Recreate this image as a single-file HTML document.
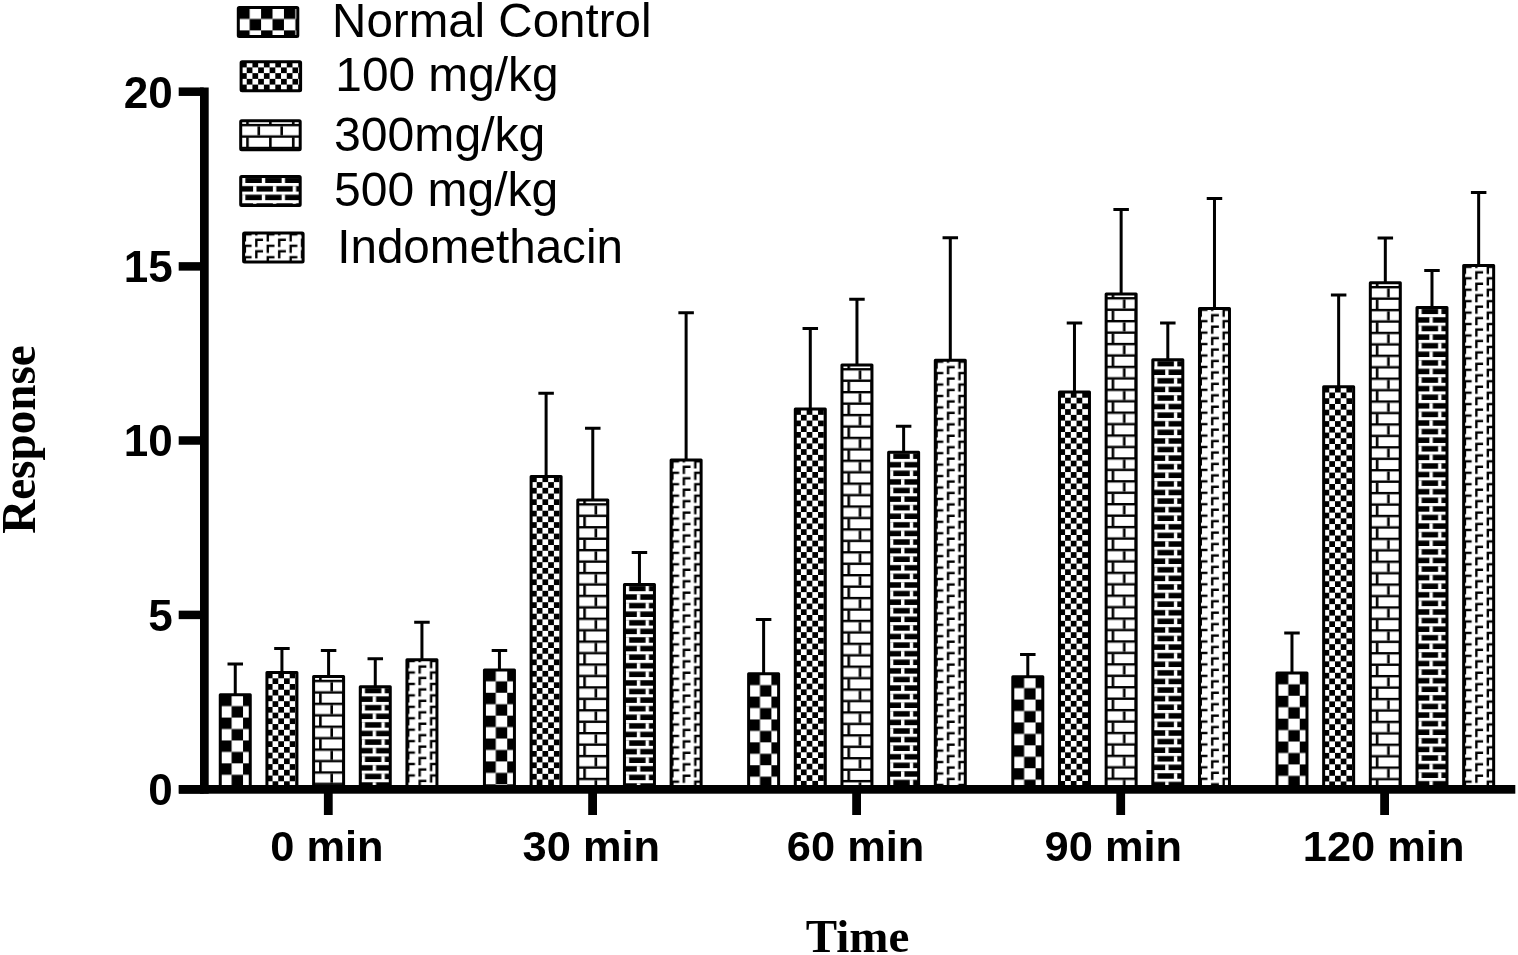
<!DOCTYPE html>
<html><head><meta charset="utf-8"><title>Response over Time</title>
<style>
html,body{margin:0;padding:0;background:#fff;}
body{width:1518px;height:955px;overflow:hidden;}
svg{display:block;}
.tk{font-family:"Liberation Sans",Arial,sans-serif;font-weight:bold;font-size:44px;}
.lg{font-family:"Liberation Sans",Arial,sans-serif;font-size:48px;}
.ti{font-family:"Liberation Serif","Times New Roman",serif;font-weight:bold;font-size:47px;}
</style></head>
<body>
<svg width="1518" height="955" viewBox="0 0 1518 955">
<defs>
<pattern id="pNC" patternUnits="userSpaceOnUse" x="1.4" y="1.4" width="22.88" height="22.88">
  <rect width="22.88" height="22.88" fill="#fff"/>
  <rect width="11.44" height="11.44" fill="#000"/>
  <rect x="11.44" y="11.44" width="11.44" height="11.44" fill="#000"/>
</pattern>
<pattern id="p100" patternUnits="userSpaceOnUse" x="1.4" y="1.5" width="11.44" height="11.44">
  <rect width="11.44" height="11.44" fill="#fff"/>
  <rect width="5.72" height="5.72" fill="#000"/>
  <rect x="5.72" y="5.72" width="5.72" height="5.72" fill="#000"/>
</pattern>
<pattern id="p300" patternUnits="userSpaceOnUse" x="0" y="4.7" width="22.88" height="22.88">
  <rect width="22.88" height="22.88" fill="#fff"/>
  <rect y="0" width="22.88" height="2.4" fill="#000"/>
  <rect y="11.44" width="22.88" height="2.4" fill="#000"/>
  <rect x="18.3" y="2.4" width="2.6" height="9.04" fill="#000"/>
  <rect x="7.0" y="13.84" width="2.6" height="9.04" fill="#000"/>
</pattern>
<pattern id="p500" patternUnits="userSpaceOnUse" x="0" y="8.1" width="19.8" height="17.18">
  <rect width="19.8" height="17.18" fill="#000"/>
  <rect y="0" width="19.8" height="3.1" fill="#fff"/>
  <rect y="8.59" width="19.8" height="3.1" fill="#fff"/>
  <rect x="13.9" y="3.1" width="3.4" height="5.49" fill="#fff"/>
  <rect x="2.8" y="11.69" width="3.4" height="5.49" fill="#fff"/>
</pattern>
<pattern id="pIN" patternUnits="userSpaceOnUse" x="0" y="0" width="22.88" height="11.44">
  <rect width="22.88" height="11.44" fill="#fff"/>
  <path d="M1.6 1.7h7.9v2.4h-5.5v5.9h-2.4z M13.04 7.1h7.9v2.4h-5.5v5.9h-2.4z M13.04 -4.34h7.9v2.4h-5.5v5.9h-2.4z" fill="#000"/>
</pattern>
</defs>
<rect width="1518" height="955" fill="#fff"/>
<g id="bars">
<g transform="translate(218.76 693.3)"><rect x="1.5" y="1.5" width="30" height="96" fill="url(#pNC)" stroke="#000" stroke-width="3" stroke-linejoin="round"/></g>
<g transform="translate(265.43 671.1)"><rect x="1.5" y="1.5" width="30" height="118.2" fill="url(#p100)" stroke="#000" stroke-width="3" stroke-linejoin="round"/></g>
<g transform="translate(312.1 675.1)"><rect x="1.5" y="1.5" width="30" height="114.2" fill="url(#p300)" stroke="#000" stroke-width="3" stroke-linejoin="round"/></g>
<g transform="translate(358.77 685.2)"><rect x="1.5" y="1.5" width="30" height="104.1" fill="url(#p500)" stroke="#000" stroke-width="3" stroke-linejoin="round"/></g>
<g transform="translate(405.44 658.2)"><rect x="1.5" y="1.5" width="30" height="131.1" fill="url(#pIN)" stroke="#000" stroke-width="3" stroke-linejoin="round"/></g>
<g transform="translate(482.94 668.5)"><rect x="1.5" y="1.5" width="30" height="120.8" fill="url(#pNC)" stroke="#000" stroke-width="3" stroke-linejoin="round"/></g>
<g transform="translate(529.61 474.9)"><rect x="1.5" y="1.5" width="30" height="314.4" fill="url(#p100)" stroke="#000" stroke-width="3" stroke-linejoin="round"/></g>
<g transform="translate(576.28 498.5)"><rect x="1.5" y="1.5" width="30" height="290.8" fill="url(#p300)" stroke="#000" stroke-width="3" stroke-linejoin="round"/></g>
<g transform="translate(622.95 583.1)"><rect x="1.5" y="1.5" width="30" height="206.2" fill="url(#p500)" stroke="#000" stroke-width="3" stroke-linejoin="round"/></g>
<g transform="translate(669.62 458.5)"><rect x="1.5" y="1.5" width="30" height="330.8" fill="url(#pIN)" stroke="#000" stroke-width="3" stroke-linejoin="round"/></g>
<g transform="translate(747.12 672.3)"><rect x="1.5" y="1.5" width="30" height="117" fill="url(#pNC)" stroke="#000" stroke-width="3" stroke-linejoin="round"/></g>
<g transform="translate(793.79 407.6)"><rect x="1.5" y="1.5" width="30" height="381.7" fill="url(#p100)" stroke="#000" stroke-width="3" stroke-linejoin="round"/></g>
<g transform="translate(840.46 363.4)"><rect x="1.5" y="1.5" width="30" height="425.9" fill="url(#p300)" stroke="#000" stroke-width="3" stroke-linejoin="round"/></g>
<g transform="translate(887.13 450.8)"><rect x="1.5" y="1.5" width="30" height="338.5" fill="url(#p500)" stroke="#000" stroke-width="3" stroke-linejoin="round"/></g>
<g transform="translate(933.8 358.8)"><rect x="1.5" y="1.5" width="30" height="430.5" fill="url(#pIN)" stroke="#000" stroke-width="3" stroke-linejoin="round"/></g>
<g transform="translate(1011.3 675.3)"><rect x="1.5" y="1.5" width="30" height="114" fill="url(#pNC)" stroke="#000" stroke-width="3" stroke-linejoin="round"/></g>
<g transform="translate(1057.97 390.5)"><rect x="1.5" y="1.5" width="30" height="398.8" fill="url(#p100)" stroke="#000" stroke-width="3" stroke-linejoin="round"/></g>
<g transform="translate(1104.64 292.4)"><rect x="1.5" y="1.5" width="30" height="496.9" fill="url(#p300)" stroke="#000" stroke-width="3" stroke-linejoin="round"/></g>
<g transform="translate(1151.31 358.3)"><rect x="1.5" y="1.5" width="30" height="431" fill="url(#p500)" stroke="#000" stroke-width="3" stroke-linejoin="round"/></g>
<g transform="translate(1197.98 306.9)"><rect x="1.5" y="1.5" width="30" height="482.4" fill="url(#pIN)" stroke="#000" stroke-width="3" stroke-linejoin="round"/></g>
<g transform="translate(1275.48 671.5)"><rect x="1.5" y="1.5" width="30" height="117.8" fill="url(#pNC)" stroke="#000" stroke-width="3" stroke-linejoin="round"/></g>
<g transform="translate(1322.15 385.3)"><rect x="1.5" y="1.5" width="30" height="404" fill="url(#p100)" stroke="#000" stroke-width="3" stroke-linejoin="round"/></g>
<g transform="translate(1368.82 281.3)"><rect x="1.5" y="1.5" width="30" height="508" fill="url(#p300)" stroke="#000" stroke-width="3" stroke-linejoin="round"/></g>
<g transform="translate(1415.49 306)"><rect x="1.5" y="1.5" width="30" height="483.3" fill="url(#p500)" stroke="#000" stroke-width="3" stroke-linejoin="round"/></g>
<g transform="translate(1462.16 264)"><rect x="1.5" y="1.5" width="30" height="525.3" fill="url(#pIN)" stroke="#000" stroke-width="3" stroke-linejoin="round"/></g>
</g>
<g id="errs" stroke="#000" stroke-width="3" fill="none">
<path d="M235.26 694.8V664M227.51 664H243.01"/>
<path d="M281.93 672.6V648.4M274.18 648.4H289.68"/>
<path d="M328.6 676.6V650.5M320.85 650.5H336.35"/>
<path d="M375.27 686.7V658.7M367.52 658.7H383.02"/>
<path d="M421.94 659.7V622.3M414.19 622.3H429.69"/>
<path d="M499.44 670V650.4M491.69 650.4H507.19"/>
<path d="M546.11 476.4V393.2M538.36 393.2H553.86"/>
<path d="M592.78 500V428.2M585.03 428.2H600.53"/>
<path d="M639.45 584.6V552.5M631.7 552.5H647.2"/>
<path d="M686.12 460V312.8M678.37 312.8H693.87"/>
<path d="M763.62 673.8V619.6M755.87 619.6H771.37"/>
<path d="M810.29 409.1V328.6M802.54 328.6H818.04"/>
<path d="M856.96 364.9V299.3M849.21 299.3H864.71"/>
<path d="M903.63 452.3V426.2M895.88 426.2H911.38"/>
<path d="M950.3 360.3V237.8M942.55 237.8H958.05"/>
<path d="M1027.8 676.8V654.5M1020.05 654.5H1035.55"/>
<path d="M1074.47 392V323M1066.72 323H1082.22"/>
<path d="M1121.14 293.9V209.6M1113.39 209.6H1128.89"/>
<path d="M1167.81 359.8V323M1160.06 323H1175.56"/>
<path d="M1214.48 308.4V198.5M1206.73 198.5H1222.23"/>
<path d="M1291.98 673V633.1M1284.23 633.1H1299.73"/>
<path d="M1338.65 386.8V295M1330.9 295H1346.4"/>
<path d="M1385.32 282.8V237.9M1377.57 237.9H1393.07"/>
<path d="M1431.99 307.5V270.4M1424.24 270.4H1439.74"/>
<path d="M1478.66 265.5V192.5M1470.91 192.5H1486.41"/>
</g>
<g id="axes" fill="#000">
<rect x="200" y="87.5" width="8.7" height="706.2"/>
<rect x="178.9" y="785" width="1336.4" height="8.7"/>
<rect x="178.7" y="785.05" width="25" height="8.5"/>
<rect x="178.7" y="610.65" width="25" height="8.5"/>
<rect x="178.7" y="436.25" width="25" height="8.5"/>
<rect x="178.7" y="262.15" width="25" height="8.5"/>
<rect x="178.7" y="87.45" width="25" height="8.5"/>
<rect x="323.9" y="790" width="8.8" height="25"/>
<rect x="588.2" y="790" width="8.8" height="25"/>
<rect x="852.2" y="790" width="8.8" height="25"/>
<rect x="1116.3" y="790" width="8.8" height="25"/>
<rect x="1380.2" y="790" width="8.8" height="25"/>
</g>
<g class="tk" text-anchor="end">
<text x="172.7" y="805.1">0</text>
<text x="172.7" y="630.7">5</text>
<text x="172.7" y="456.3">10</text>
<text x="172.7" y="282.2">15</text>
<text x="172.7" y="107.5">20</text>
</g>
<g class="tk" text-anchor="middle" style="font-size:43.4px">
<text x="326.9" y="861.2">0 min</text>
<text x="591.3" y="861.2">30 min</text>
<text x="855.6" y="861.2">60 min</text>
<text x="1113.3" y="861.2">90 min</text>
<text x="1383.6" y="861.2">120 min</text>
</g>
<g id="legend">
<g transform="translate(236.8 6.1)"><rect x="1.5" y="1.5" width="59.5" height="29" rx="1" fill="url(#pNC)" stroke="#000" stroke-width="3"/></g>
<g transform="translate(239.6 60.2)"><rect x="1.5" y="1.5" width="59.5" height="29" rx="1" fill="url(#p100)" stroke="#000" stroke-width="3"/></g>
<g transform="translate(239.2 119.2)"><rect x="1.5" y="1.5" width="59.5" height="29" rx="1" fill="url(#p300)" stroke="#000" stroke-width="3"/></g>
<g transform="translate(239.2 174.9)"><rect x="1.5" y="1.5" width="59.5" height="29" rx="1" fill="url(#p500)" stroke="#000" stroke-width="3"/></g>
<g transform="translate(242.1 231.5)"><rect x="1.5" y="1.5" width="59.5" height="29" rx="1" fill="url(#pIN)" stroke="#000" stroke-width="3"/></g>
</g>
<g class="lg">
<text x="332.1" y="37.0" style="font-size:47.5px">Normal Control</text>
<text x="335.3" y="91.4" style="font-size:47.8px">100 mg/kg</text>
<text x="334.1" y="151.1" style="font-size:48.1px">300mg/kg</text>
<text x="334.1" y="205.9" style="font-size:48px">500 mg/kg</text>
<text x="337.2" y="262.8" style="font-size:47.6px">Indomethacin</text>
</g>
<text class="ti" x="857.5" y="951.6" text-anchor="middle">Time</text>
<text class="ti" transform="translate(34.9 439.6) rotate(-90) scale(0.982 1)" text-anchor="middle" style="font-size:48px">Response</text>
</svg>
</body></html>
